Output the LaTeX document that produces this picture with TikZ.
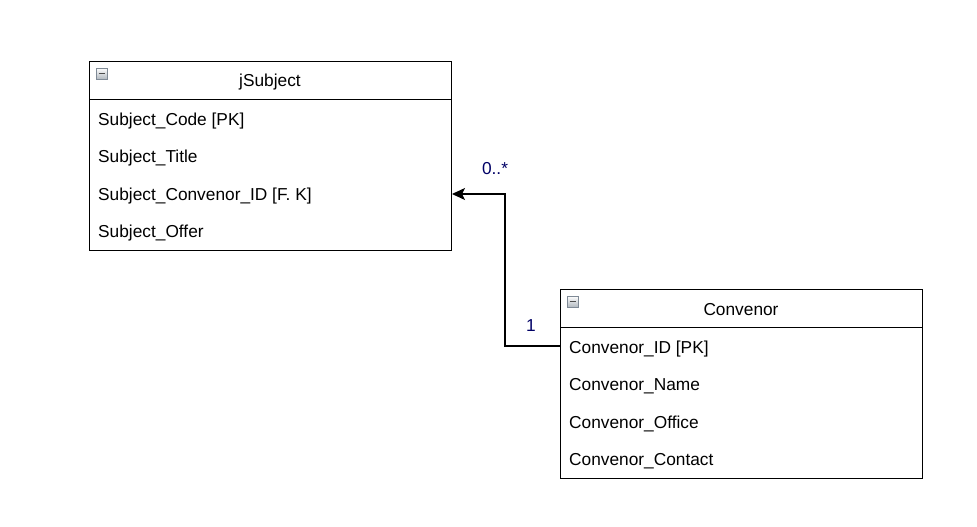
\documentclass[tikz,border=0pt]{standalone}
\usepackage{fontspec}
\setmainfont{Liberation Sans}
\usepackage{tikz}
\usetikzlibrary{arrows.meta,positioning,backgrounds}
\definecolor{labelblue}{HTML}{000066}
\definecolor{icongray}{HTML}{7F8A96}
\tikzset{
  entity/.style={draw,line width=1pt,minimum width=362pt,minimum height=189pt,inner sep=0pt,anchor=north west},
  ename/.style={font=\fontsize{17.3}{20}\selectfont,inner sep=0pt},
  attr/.style={anchor=west,inner sep=0pt,font=\fontsize{17.3}{20}\selectfont},
  mult/.style={text=labelblue,inner sep=0pt,font=\fontsize{17.3}{20}\selectfont},
  collapse/.style={draw=icongray,top color=white,bottom color=icongray!60,minimum size=11pt,inner sep=0pt,line width=0.6pt},
  conn/.style={line width=1.1pt,-{Stealth[length=13pt,width=12pt,inset=3pt]}}
}
\begin{document}
\begin{tikzpicture}[x=1pt,y=-1pt]
\fill[white] (0,0) rectangle (977,527);
\useasboundingbox (0,0) rectangle (977,527);

\node[entity] (subj) at (89,61) {};
\draw[line width=1pt] ([yshift=-38pt]subj.north west) -- ([yshift=-38pt]subj.north east);
\node[collapse] (sicon) at (101.5,73.5) {\color{black!70}\rule{6pt}{1.6pt}};
\node[ename] (stitle) at (270,82) {jSubject};
\foreach \n/\t [count=\i] in {scode/Subject\_Code [PK],stitl/Subject\_Title,sconv/Subject\_Convenor\_ID [F. K],soffer/Subject\_Offer}
  \node[attr] (\n) at (98,83.5+\i*37.5) {\t};

\node[entity] (conv) at (560,289) {};
\draw[line width=1pt] ([yshift=-38pt]conv.north west) -- ([yshift=-38pt]conv.north east);
\node[collapse] (cicon) at (572.5,301.5) {\color{black!70}\rule{6pt}{1.6pt}};
\node[ename] (ctitle) at (741,309.5) {Convenor};
\foreach \n/\t [count=\i] in {cid/Convenor\_ID [PK],cname/Convenor\_Name,coffice/Convenor\_Office,ccontact/Convenor\_Contact}
  \node[attr] (\n) at (569,311.5+\i*37.5) {\t};

\draw[conn] ([yshift=3pt]cid -| conv.west) -- ++(-55,0) |- ([yshift=2pt]sconv -| subj.east);
\node[mult] (manys) at (495,169) {0..*};
\node[mult] (onec) at (531,326) {1};
\end{tikzpicture}
\end{document}
